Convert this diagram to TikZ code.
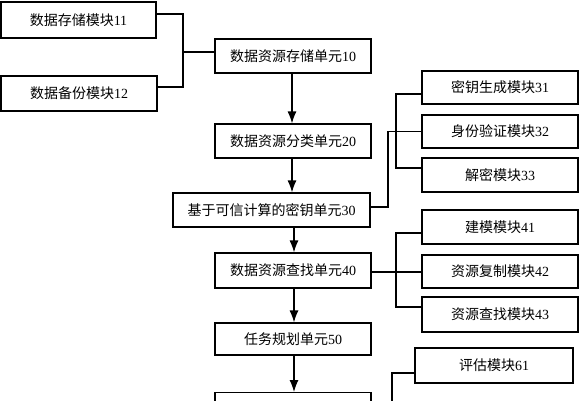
\documentclass[tikz,border=0pt]{standalone}
\usepackage{fontspec}
\setmainfont{Liberation Serif}
\newfontfamily\cjk{Noto Sans CJK SC}
\usetikzlibrary{arrows.meta}
\tikzset{
  box/.style={draw, line width=1.2pt, fill=white, inner sep=0pt, font=\fontsize{14}{16}\selectfont},
  conn/.style={line width=1.2pt},
  flow/.style={line width=1.2pt, -{Latex[length=12pt,width=9pt]}}
}
\newcommand{\lb}[2]{{\cjk #1}#2}
\begin{document}
\begin{tikzpicture}[x=1pt,y=-1pt]
\useasboundingbox (0,0) rectangle (580,400);
\clip (0,0) rectangle (580,400);
\fill[white] (0,0) rectangle (580,400);
% left column
\node[box, minimum width=155pt, minimum height=36pt] (b11) at (78.5,20) {\lb{数据存储模块}{11}};
\node[box, minimum width=156pt, minimum height=35pt] (b12) at (79,93.5) {\lb{数据备份模块}{12}};
% centre column
\node[box, minimum width=156pt, minimum height=34pt] (b10) at (293,56) {\lb{数据资源存储单元}{10}};
\node[box, minimum width=156pt, minimum height=34pt] (b20) at (293,141) {\lb{数据资源分类单元}{20}};
\node[box, minimum width=197pt, minimum height=34pt] (b30) at (271.5,210) {\lb{基于可信计算的密钥单元}{30}};
\node[box, minimum width=156pt, minimum height=35pt] (b40) at (293,270.5) {\lb{数据资源查找单元}{40}};
\node[box, minimum width=156pt, minimum height=32pt] (b50) at (293,339) {\lb{任务规划单元}{50}};
\node[box, minimum width=156pt, minimum height=40pt, anchor=north] (b60) at (293,392) {};
% right column
\node[box, minimum width=156pt, minimum height=33pt] (b31) at (500,87.5) {\lb{密钥生成模块}{31}};
\node[box, minimum width=156pt, minimum height=33pt] (b32) at (500,131.5) {\lb{身份验证模块}{32}};
\node[box, minimum width=156pt, minimum height=34pt] (b33) at (500,175) {\lb{解密模块}{33}};
\node[box, minimum width=156pt, minimum height=34pt] (b41) at (500,227) {\lb{建模模块}{41}};
\node[box, minimum width=156pt, minimum height=33pt] (b42) at (500,271.5) {\lb{资源复制模块}{42}};
\node[box, minimum width=156pt, minimum height=35pt] (b43) at (500,314.5) {\lb{资源查找模块}{43}};
\node[box, minimum width=158pt, minimum height=35pt] (b61) at (494,365.5) {\lb{评估模块}{61}};
\coordinate (end61) at (392,410);
% left bracket
\draw[conn] ([yshift=6pt]b11.east) -| (183,52) |- ([yshift=6.5pt]b12.east);
\draw[conn] (183,52) -- (b10.west |- 183,52);
% main flow
\draw[flow] (b10.south -| 292,0) -- (b20.north -| 292,0);
\draw[flow] (b20.south -| 292,0) -- (b30.north -| 292,0);
\draw[flow] (b30.south -| 294,0) -- (b40.north -| 294,0);
\draw[flow] (b40.south -| 294,0) -- (b50.north -| 294,0);
\draw[flow] (b50.south -| 294,0) -- (b60.north -| 294,0);
% key unit branch
\draw[conn] ([yshift=-6.5pt]b31.west) -| (396,168) -- ([yshift=7pt]b33.west);
\draw[conn] ([yshift=3pt]b30.east) -| (388,131.5) -- (b32.west);
% search unit branch
\draw[conn] ([yshift=-6pt]b41.west) -| (396,307) -- ([yshift=7.5pt]b43.west);
\draw[conn] ([yshift=-1.5pt]b40.east) -- (b42.west |- 0,272);
% evaluation
\draw[conn] ([yshift=-7.5pt]b61.west) -| (end61);
\end{tikzpicture}
\end{document}
